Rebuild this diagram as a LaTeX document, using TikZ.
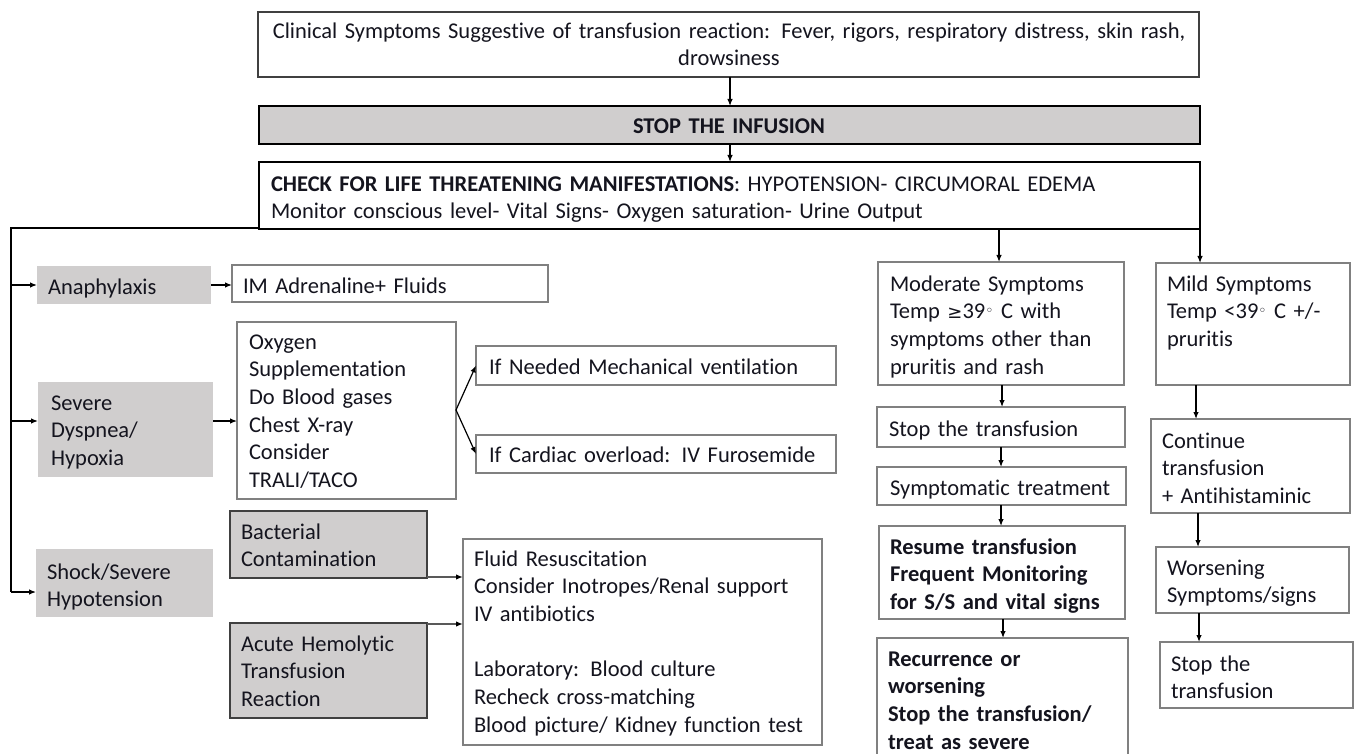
\documentclass[tikz,border=0pt]{standalone}
\usepackage{fontspec}
\setmainfont[Ligatures=NoCommon]{Carlito}
\newfontfamily\djv{DejaVu Sans}
\usetikzlibrary{arrows.meta,calc}
\definecolor{gfill}{RGB}{208,206,206}
\definecolor{bord}{RGB}{128,128,128}
\definecolor{dbord}{RGB}{64,64,64}
\definecolor{txtc}{RGB}{20,20,30}
\newcommand\mydgr{\raisebox{3.5pt}{\djv\fontsize{14}{14}\selectfont ◦}}
\newcommand\mygeq{{\djv\fontsize{18}{18}\selectfont ≥}}
\newcommand\bx[6]{\node[#1, anchor=north west, minimum width={#5-#3}, minimum height={#6-#4}] (#2) at (#3,#4) {};}
\newcommand\tx[4]{\node[txt, anchor=north west] (#1) at (#2,#3-11.3) {\strut #4};}
\newcommand\tc[4]{\node[txt, align=center, anchor=north] (#1) at (#2,#3-11.3) {\strut #4};}
\tikzset{
  base/.style={inner sep=0pt, outer sep=0pt},
  wbox/.style={base, draw=bord, line width=1.3pt, fill=white},
  topbox/.style={base, draw=dbord, line width=1.3pt, fill=white},
  thkbox/.style={base, draw=black, line width=2.6pt, fill=white},
  gbox/.style={base, fill=gfill},
  dgbox/.style={base, fill=gfill, draw=dbord, line width=1.6pt},
  txt/.style={base, text width=940pt, align=left, text=txtc, font=\fontsize{22.5}{27.7}\selectfont},
  conn/.style={draw=black, line width=1.2pt},
  arr/.style={conn, -{Latex[length=7pt,width=5.5pt]}},
  garr/.style={draw=black!65, line width=1.6pt, -{Latex[length=7pt,width=5.5pt,color=black]}},
}
\begin{document}
\begin{tikzpicture}[x=1pt,y=-1pt]
\useasboundingbox (0,0) rectangle (1355,754);
% boxes
\bx{topbox}{top}{258}{12}{1199}{77}
\bx{thkbox,fill=gfill}{stop}{259}{106}{1200}{144}
\bx{thkbox}{check}{259}{162}{1200}{229}
\bx{gbox}{ana}{37}{266}{211}{304}
\bx{wbox}{im}{232}{265}{548}{302}
\bx{gbox}{sev}{38}{382}{213}{477}
\bx{wbox}{oxy}{237}{322}{456}{499}
\bx{wbox}{ifn}{476}{346}{836}{385}
\bx{wbox}{ifc}{476}{435}{836}{473}
\bx{gbox}{shock}{36}{549}{213}{617}
\bx{dgbox}{bac}{230}{511}{427}{578}
\bx{dgbox}{acu}{230}{623}{427}{718}
\bx{wbox}{flu}{463}{539}{822}{745}
\bx{wbox}{mod}{878}{262}{1124}{385}
\bx{wbox}{mild}{1156}{263}{1350}{385}
\bx{wbox}{stp}{877}{407}{1125}{447}
\bx{wbox}{sym}{877}{467}{1126}{505}
\bx{wbox}{res}{879}{526}{1125}{619}
\bx{wbox}{rec}{877}{638}{1128}{775}
\bx{wbox}{con}{1151}{419}{1350}{513}
\bx{wbox}{wor}{1156}{547}{1349}{613}
\bx{wbox}{stpb}{1160}{642}{1353}{708}
% texts
\tc{ttop}{729}{30}{Clinical Symptoms Suggestive of transfusion reaction: Fever, rigors, respiratory distress, skin rash,\\drowsiness}
\tc{tstop}{729}{125}{\textbf{STOP THE INFUSION}}
\tx{tcheck}{271}{183}{\textbf{CHECK FOR LIFE THREATENING MANIFESTATIONS}: HYPOTENSION- CIRCUMORAL EDEMA\\Monitor conscious level- Vital Signs- Oxygen saturation- Urine Output}
\tx{tana}{48}{286}{Anaphylaxis}
\tx{tim}{243}{285}{IM Adrenaline+ Fluids}
\tx{tsev}{51}{402}{Severe\\Dyspnea/\\Hypoxia}
\tx{toxy}{249}{341}{Oxygen\\Supplementation\\Do Blood gases\\Chest X-ray\\Consider\\TRALI/TACO}
\tx{tifn}{489}{366}{If Needed Mechanical ventilation}
\tx{tifc}{489}{454}{If Cardiac overload: IV Furosemide}
\tx{tshock}{47}{571}{Shock/Severe\\Hypotension}
\tx{tbac}{241}{531}{Bacterial\\Contamination}
\tx{tacu}{241}{643}{Acute Hemolytic\\Transfusion\\Reaction}
\tx{tflu}{474}{558}{Fluid Resuscitation\\Consider Inotropes/Renal support\\IV antibiotics\\~\\Laboratory: Blood culture\\Recheck cross-matching\\Blood picture/ Kidney function test}
\tx{tmod}{890}{283}{Moderate Symptoms\\Temp \mygeq39\mydgr\ C with\\symptoms other than\\pruritis and rash}
\tx{tmild}{1167}{283}{Mild Symptoms\\Temp <39\mydgr\ C +/-\\pruritis}
\tx{tstp}{889}{428}{Stop the transfusion}
\tx{tsym}{890}{487}{Symptomatic treatment}
\tx{tres}{890}{546}{\textbf{Resume transfusion}\\\textbf{Frequent Monitoring}\\\textbf{for S/S and vital signs}}
\tx{trec}{888}{658}{\textbf{Recurrence or}\\\textbf{worsening}\\\textbf{Stop the transfusion/}\\\textbf{treat as severe}}
\tx{tcon}{1162}{440}{Continue\\transfusion\\+ Antihistaminic}
\tx{twor}{1167}{567}{Worsening\\Symptoms/signs}
\tx{tstpb}{1171}{663}{Stop the\\transfusion}
% connectors
\draw[arr] (top.south -| 730,0) -- (stop.north -| 730,0);
\draw[arr] (stop.south -| 730,0) -- (check.north -| 730,0);
\coordinate (lt) at (11,228);
\coordinate (lb) at (11,592);
\draw[conn] ([yshift=1pt]check.south west) -- (lt) -- (lb);
\draw[arr] (lb) -- (shock.west |- lb);
\draw[arr] (lt |- ana.west) -- (ana.west);
\draw[arr] (lt |- 0,421) -- (sev.west |- 0,421);
\draw[arr] (ana.east) -- (im.west |- ana.east);
\draw[arr] (sev.east |- 0,421) -- (oxy.west |- 0,421);
\coordinate (fk) at (456,410);
\draw[arr] (fk) -- (ifn.west);
\draw[arr] (fk) -- (ifc.west);
\draw[garr] ([yshift=1pt]bac.south east) -- (flu.west |- 0,577);
\draw[garr] ([yshift=-1pt]acu.north east) -- (flu.west |- 0,624);
\draw[arr] (check.south -| 999,0) -- (mod.north -| 999,0);
\draw[arr] (check.south east) -- (mild.north -| check.south east);
\draw[arr] (mod.south -| 1002,0) -- (stp.north -| 1002,0);
\draw[arr] (stp.south -| 1001,0) -- (sym.north -| 1001,0);
\draw[arr] (sym.south -| 1001,0) -- (res.north -| 1001,0);
\draw[arr] (res.south -| 1003,0) -- (rec.north -| 1003,0);
\draw[arr] (mild.south -| 1196,0) -- (con.north -| 1196,0);
\draw[arr] (con.south -| 1198,0) -- (wor.north -| 1198,0);
\draw[arr] (wor.south -| 1199,0) -- (stpb.north -| 1199,0);
\end{tikzpicture}
\end{document}
